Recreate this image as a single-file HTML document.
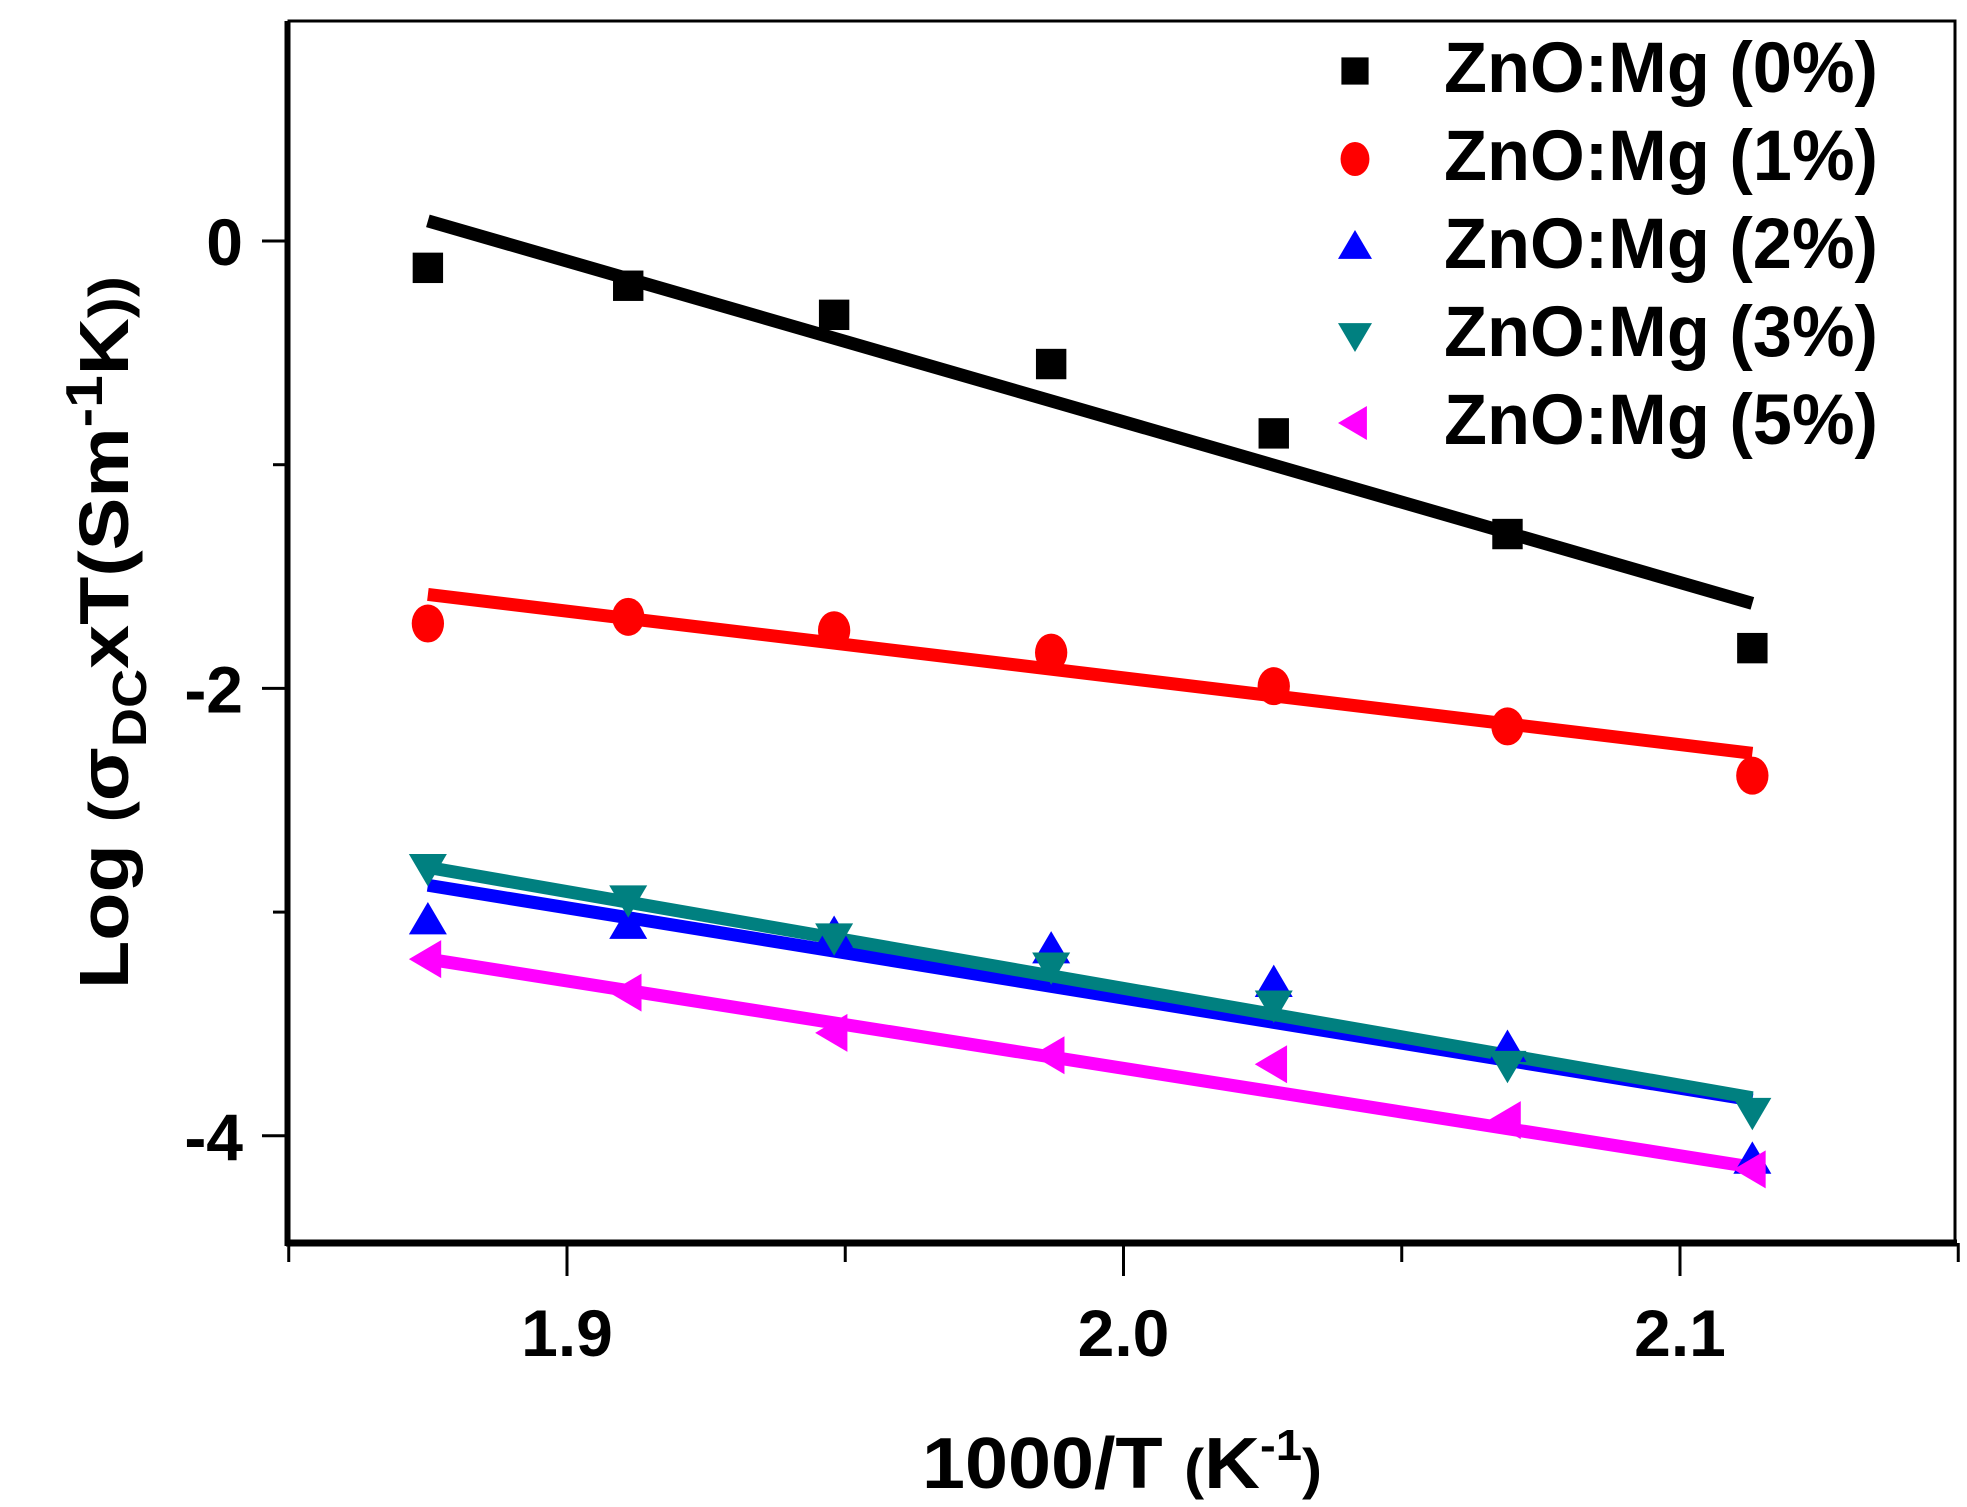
<!DOCTYPE html>
<html><head><meta charset="utf-8"><style>
html,body{margin:0;padding:0;background:#fff;}
svg{display:block;font-family:"Liberation Sans",sans-serif;font-weight:bold;}
</style></head><body>
<svg id="chart" width="1967" height="1507" viewBox="0 0 1967 1507">
<g id="axes"></g>
<g id="fits"></g>
<g id="marks"></g>
<g id="legend"></g>
<text x="1122" y="1488" text-anchor="middle" font-size="72" textLength="400" lengthAdjust="spacingAndGlyphs">1000/T <tspan font-size="56">(</tspan>K<tspan font-size="44" dy="-28">-1</tspan><tspan font-size="56" dy="28">)</tspan></text>
<text transform="translate(128,989) rotate(-90)" x="0" y="0" font-size="70" textLength="713" lengthAdjust="spacingAndGlyphs">Log <tspan font-size="56">(</tspan>σ<tspan font-size="48" dy="18">DC</tspan><tspan dy="-18">xT(Sm</tspan><tspan font-size="52" dy="-26">-1</tspan><tspan dy="26">K</tspan><tspan font-size="56">))</tspan></text>
</svg>
<script>
const xValues=[1.875,1.911,1.948,1.987,2.027,2.069,2.113];
const s0=[-0.12,-0.20,-0.33,-0.55,-0.86,-1.31,-1.82];
const s1=[-1.71,-1.68,-1.74,-1.84,-1.99,-2.17,-2.39];
const s2=[-3.04,-3.06,-3.10,-3.17,-3.32,-3.61,-4.11];
const s3=[-2.80,-2.94,-3.11,-3.24,-3.41,-3.68,-3.89];
const s5=[-3.21,-3.36,-3.54,-3.64,-3.68,-3.93,-4.15];
const fitX=[1.875,2.113];
const fit0=[0.09,-1.62];
const fit1=[-1.58,-2.29];
const fit2=[-2.88,-3.84];
const fit3=[-2.80,-3.83];
const fit5=[-3.21,-4.14];
const legendLabels=["ZnO:Mg (0%)","ZnO:Mg (1%)","ZnO:Mg (2%)","ZnO:Mg (3%)","ZnO:Mg (5%)"];
const xTicks=[1.9,2.0,2.1];
const xTickLabels=["1.9","2.0","2.1"];
const xMinor=[1.85,1.95,2.05,2.15];
const yTicks=[0,-2,-4];
const yTickLabels=["0","-2","-4"];
const yMinor=[-1,-3];

const NS="http://www.w3.org/2000/svg";
function X(v){return 567+(v-1.9)*5565;}
function Y(v){return 241-v*223.7;}
function mk(tag,attrs,parent){const e=document.createElementNS(NS,tag);for(const k in attrs)e.setAttribute(k,attrs[k]);parent.appendChild(e);return e;}
const axes=document.getElementById('axes');
let e;
e=mk('rect',{x:289,y:21,width:1666,height:1222,fill:'none',stroke:'#000','stroke-width':3},axes);


e=mk('line',{x1:286,y1:1243,x2:1957,y2:1243,stroke:'#000','stroke-width':7},axes);


e=mk('line',{x1:287,y1:21,x2:287,y2:1246,stroke:'#000','stroke-width':5},axes);


xTicks.forEach((v,i)=>{
  e=mk('line',{x1:X(v),y1:1243,x2:X(v),y2:1276,stroke:'#000','stroke-width':3},axes);
  
  
  e=mk('text',{x:X(v),y:1356,'text-anchor':'middle','font-size':66},axes);
  
  
  e.textContent=xTickLabels[i];
});
xMinor.forEach(v=>{
  e=mk('line',{x1:X(v),y1:1243,x2:X(v),y2:1262,stroke:'#000','stroke-width':3},axes);
  
  
});
yTicks.forEach((v,i)=>{
  e=mk('line',{x1:262,y1:Y(v),x2:287,y2:Y(v),stroke:'#000','stroke-width':3},axes);
  
  
  e=mk('text',{x:243,y:Y(v)+24,'text-anchor':'end','font-size':66},axes);
  
  
  e.textContent=yTickLabels[i];
});
yMinor.forEach(v=>{
  e=mk('line',{x1:273,y1:Y(v),x2:287,y2:Y(v),stroke:'#000','stroke-width':3},axes);
  
  
});

const series=[
 {vals:s0,fit:fit0,color:'#000000',shape:'square'},
 {vals:s1,fit:fit1,color:'#ff0000',shape:'circle'},
 {vals:s2,fit:fit2,color:'#0000ff',shape:'up'},
 {vals:s3,fit:fit3,color:'#008080',shape:'down'},
 {vals:s5,fit:fit5,color:'#ff00ff',shape:'left'}
];
function marker(shape,cx,cy,r,color,parent){
  let el;
  if(shape==='square') el=mk('rect',{x:cx-r*0.8,y:cy-r*0.8,width:r*1.6,height:r*1.6,fill:color},parent);
  else if(shape==='circle') el=mk('ellipse',{cx:cx,cy:cy,rx:r*0.85,ry:r,fill:color},parent);
  else if(shape==='up') el=mk('polygon',{points:`${cx},${cy-r} ${cx+r},${cy+r*0.7} ${cx-r},${cy+r*0.7}`,fill:color},parent);
  else if(shape==='down') el=mk('polygon',{points:`${cx},${cy+r} ${cx+r},${cy-r*0.7} ${cx-r},${cy-r*0.7}`,fill:color},parent);
  else el=mk('polygon',{points:`${cx-r},${cy} ${cx+r*0.7},${cy-r} ${cx+r*0.7},${cy+r}`,fill:color},parent);
  return el;
}
const fits=document.getElementById('fits'), marks=document.getElementById('marks');
series.forEach((s,si)=>{
  e=mk('line',{x1:X(fitX[0]),y1:Y(s.fit[0]),x2:X(fitX[1]),y2:Y(s.fit[1]),stroke:s.color,'stroke-width':13},fits);
  
  
  s.vals.forEach((v,i)=>{
    e=marker(s.shape,X(xValues[i]),Y(v),19,s.color,marks);
    
    
  });
});
const legend=document.getElementById('legend');
legendLabels.forEach((lab,i)=>{
  const cy=71+i*88;
  e=marker(series[i].shape,1355,cy,17,series[i].color,legend);
  
  
  e=mk('text',{x:1444,y:cy+21,'font-size':71,textLength:434,lengthAdjust:'spacingAndGlyphs'},legend);
  
  
  e.textContent=lab;
});
</script>
</body></html>
